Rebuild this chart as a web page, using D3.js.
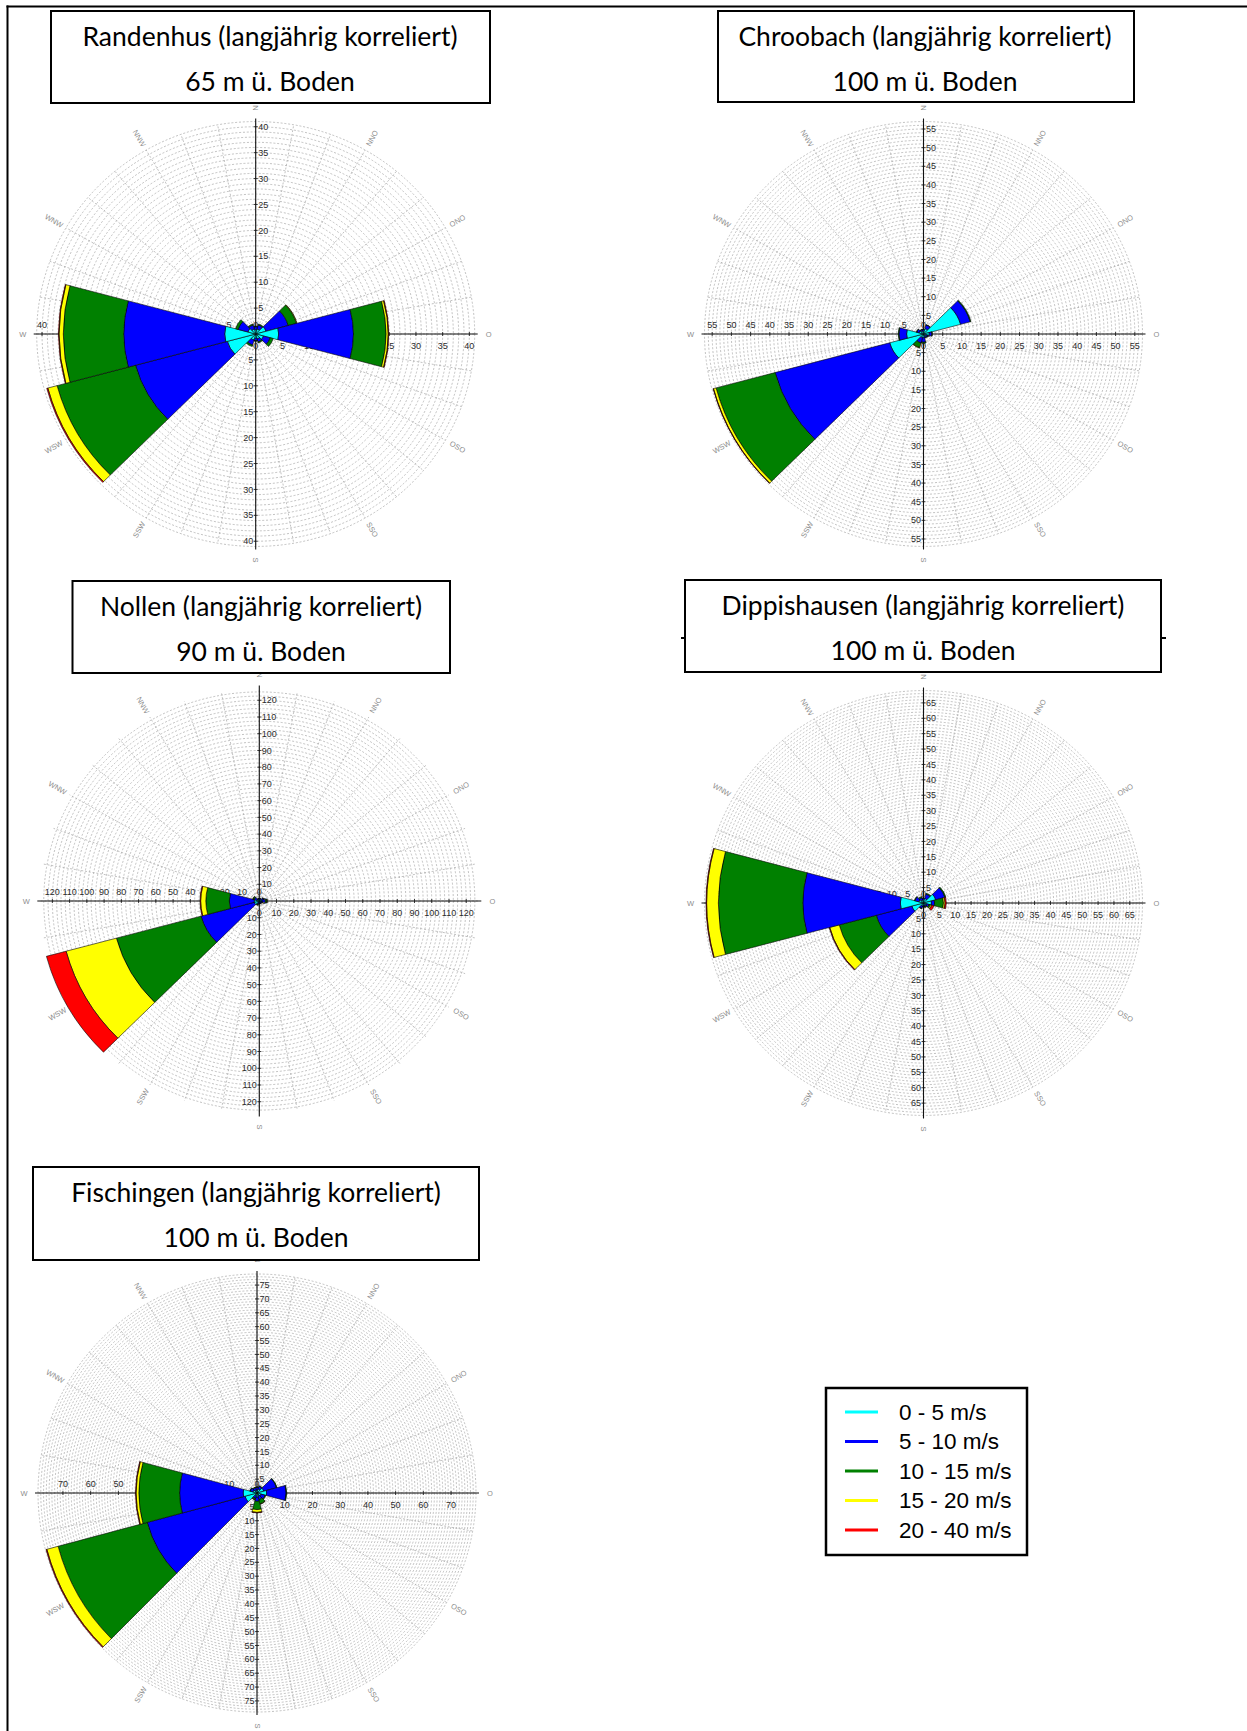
<!DOCTYPE html>
<html><head><meta charset="utf-8">
<script src="https://cdn.jsdelivr.net/npm/d3@7"></script>
<style>
body{margin:0;background:#fff}
svg{display:block}
</style>
</head><body>
<svg id="chart" width="1247" height="1731"></svg>
<script>
// Wind direction sectors (30° each, clockwise from north) and speed classes
const sectors = ["N","NNO","ONO","O","OSO","SSO","S","SSW","WSW","W","WNW","NNW"];
const speedClasses = ["0 - 5 m/s","5 - 10 m/s","10 - 15 m/s","15 - 20 m/s","20 - 40 m/s"];
const classColors = ["#00ffff","#0000ff","#008000","#ffff00","#ff0000"];

// Frequency per sector (rows, same order as sectors) and speed class (columns)
const randenhus = [
  [0.8,0.6,0.1,0,0],[1.0,0.8,0.2,0,0],[2.0,4.3,1.6,0.1,0],[4.3,14.0,6.1,0.4,0.1],
  [1.5,1.3,0.6,0,0],[1.0,0.6,0.2,0,0],[0.8,0.5,0.1,0,0],[1.2,1.0,0.3,0,0],
  [5.5,17.8,15.2,1.8,0.2],[5.8,18.9,11.3,0.8,0.1],[1.5,1.9,0.5,0,0],[1.0,0.8,0.2,0,0]
];
const chroobach = [
  [0.8,0.4,0.1,0,0],[1.5,1.0,0.1,0,0],[10.0,2.6,0.2,0,0],[1.5,0.7,0.1,0,0],
  [0.8,0.4,0.1,0,0],[0.6,0.4,0.1,0,0],[1.0,1.2,0.3,0,0],[1.0,1.5,1.3,0.1,0],
  [9.1,30.9,15.9,0.7,0.1],[4.4,2.0,0.2,0,0],[1.2,0.6,0.1,0,0],[0.8,0.4,0.1,0,0]
];
const nollen = [
  [1.0,0.5,0.1,0,0],[1.0,0.5,0.1,0,0],[1.5,1.0,0.3,0,0],[1.5,2.0,1.0,0.1,0],
  [1.0,0.8,0.2,0,0],[1.0,0.5,0.1,0,0],[1.0,0.5,0.3,0,0],[1.0,1.0,0.5,0.1,0],
  [3.0,32.0,50.8,30.2,11.8],[3.0,14.4,13.6,3.0,0.4],[1.5,1.5,0.8,0.1,0],[1.0,0.5,0.2,0,0]
];
const dippishausen = [
  [1.0,0.5,0.1,0,0],[1.5,1.5,0.3,0,0],[4.0,3.0,0.3,0,0],[2.5,1.0,2.8,0.5,0.4],
  [1.0,0.8,0.5,0.4,0.7],[0.8,0.4,0.2,0.1,0],[0.8,0.4,0.1,0,0],[1.0,0.8,0.2,0,0],
  [3.8,11.6,12.1,3.1,0.2],[7.3,30.7,26.6,3.7,0.2],[1.5,1.3,0.2,0,0],[1.0,0.8,0.4,0,0]
];
const fischingen = [
  [1.0,1.0,0.2,0,0],[1.5,1.0,0.2,0,0],[2.5,4.8,0.2,0,0],[3.5,7.0,0.2,0,0],
  [1.5,1.5,0.3,0,0],[1.0,1.5,1.6,0.1,0],[1.5,1.5,3.0,1.0,0.2],[1.0,1.0,0.5,0.1,0],
  [4.5,36.5,33.3,4.2,0.3],[5.0,22.9,14.7,1.0,0.2],[1.5,1.0,0.2,0,0],[1.0,1.0,0.2,0,0]
];

// Axis tick labels
const ticksRandenhus = [0,5,10,15,20,25,30,35,40];
const ticksChroobach = [0,5,10,15,20,25,30,35,40,45,50,55];
const ticksNollen = [0,10,20,30,40,50,60,70,80,90,100,110,120];
const ticksDippishausen = [0,5,10,15,20,25,30,35,40,45,50,55,60,65];
const ticksFischingenV = [0,5,10,15,20,25,30,35,40,45,50,55,60,65,70,75];
const ticksFischingenH = [0,10,20,30,40,50,60,70];

// Station titles and measuring heights
const stationNames = ["Randenhus","Chroobach","Nollen","Dippishausen","Fischingen"];
const stationHeights = ["65 m ü. Boden","100 m ü. Boden","90 m ü. Boden","100 m ü. Boden","100 m ü. Boden"];

// Layout of each panel
const panels = [
  {values: randenhus, ticksV: ticksRandenhus, ticksH: ticksRandenhus, outer: 41, ring: 1,
   cx: 255.7, cy: 334, k: 0.97, box: [51, 11, 490, 103], tx: 270},
  {values: chroobach, ticksV: ticksChroobach, ticksH: ticksChroobach, outer: 57, ring: 1,
   cx: 923.5, cy: 334, k: 0.97, box: [718, 11, 1134, 102], tx: 925},
  {values: nollen, ticksV: ticksNollen, ticksH: ticksNollen, outer: 127, ring: 2.5,
   cx: 259.3, cy: 901, k: 0.97, box: [72.5, 581, 450, 673], tx: 261},
  {values: dippishausen, ticksV: ticksDippishausen, ticksH: ticksDippishausen, outer: 69, ring: 1,
   cx: 923.5, cy: 903, k: 0.97, box: [685, 580, 1161, 672], tx: 923, rule: [681, 1166, 638]},
  {values: fischingen, ticksV: ticksFischingenV, ticksH: ticksFischingenH, outer: 79, ring: 1,
   cx: 257, cy: 1493, k: 1.0, box: [33, 1167, 479, 1260], tx: 256}
];
const R = 219;

const svg = d3.select("#chart");
svg.append("rect").attr("width",1247).attr("height",1731).attr("fill","#fff");

// page frame (left and top rules)
svg.append("line").attr("x1",7.5).attr("y1",5.5).attr("x2",7.5).attr("y2",1731)
  .attr("stroke","#000").attr("stroke-width",2);
svg.append("line").attr("x1",6.5).attr("y1",6.5).attr("x2",1247).attr("y2",6.5)
  .attr("stroke","#000").attr("stroke-width",2);

const rad = d => d * Math.PI / 180;
const gridColor = "#a8a8a8";

panels.forEach((p, pi) => {
  const r = d3.scaleLinear().domain([0, p.outer]).range([0, R]);
  const g = svg.append("g").attr("transform", `translate(${p.cx},${p.cy})`);
  const gs = g.append("g").attr("transform", `scale(1,${p.k})`);

  // dashed polar grid
  const rings = d3.range(p.ring, p.outer + 1e-6, p.ring);
  gs.selectAll("circle.ring").data(rings).join("circle")
    .attr("r", d => r(d)).attr("fill","none")
    .attr("stroke",gridColor).attr("stroke-width",0.7)
    .attr("stroke-dasharray","2,1.8").attr("vector-effect","non-scaling-stroke");
  const spokes = d3.range(0, 360, 10);
  gs.selectAll("line.spoke").data(spokes).join("line")
    .attr("x1",0).attr("y1",0)
    .attr("x2", d => R * Math.sin(rad(d))).attr("y2", d => -R * Math.cos(rad(d)))
    .attr("stroke",gridColor).attr("stroke-width",0.7)
    .attr("stroke-dasharray","2,1.8").attr("vector-effect","non-scaling-stroke");

  // compass labels
  const lr = R + 14;
  sectors.forEach((s, i) => {
    const a = i * 30;
    let rot = a - 90;
    if (rot > 90) rot -= 180;
    if (rot <= -90) rot += 180;
    const x = lr * Math.sin(rad(a)), y = -lr * p.k * Math.cos(rad(a));
    g.append("text").attr("transform", `translate(${x},${y}) rotate(${rot})`)
      .attr("text-anchor","middle").attr("dominant-baseline","central")
      .attr("font-family","Liberation Sans, Arial, sans-serif").attr("font-size",7.5)
      .attr("fill","#8c8c8c").text(s);
  });

  // axes
  const ax = g.append("g").attr("stroke","#111").attr("stroke-width",1.1);
  ax.append("line").attr("x1",-R-3).attr("x2",R+3).attr("y1",0).attr("y2",0);
  ax.append("line").attr("y1",-R*p.k-3).attr("y2",R*p.k+3).attr("x1",0).attr("x2",0);

  const lab = g.append("g").attr("font-family","Liberation Sans, Arial, sans-serif")
    .attr("font-size",9).attr("fill","#2a2a2a");
  p.ticksV.forEach(v => {
    const y = r(v) * p.k;
    if (v > 0) {
      ax.append("line").attr("x1",-2).attr("x2",2).attr("y1",-y).attr("y2",-y).attr("stroke-width",0.8);
      ax.append("line").attr("x1",-2).attr("x2",2).attr("y1",y).attr("y2",y).attr("stroke-width",0.8);
    }
    lab.append("text").attr("x",2.5).attr("y",-y).attr("dy","0.35em").attr("text-anchor","start").text(v);
    lab.append("text").attr("x",-2.5).attr("y",y).attr("dy","0.35em").attr("text-anchor","end").text(v);
  });
  p.ticksH.forEach(v => {
    const x = r(v);
    if (v > 0) {
      ax.append("line").attr("y1",-2).attr("y2",2).attr("x1",x).attr("x2",x).attr("stroke-width",0.8);
      ax.append("line").attr("y1",-2).attr("y2",2).attr("x1",-x).attr("x2",-x).attr("stroke-width",0.8);
    }
    lab.append("text").attr("x",x).attr("y",12).attr("dy","0.35em").attr("text-anchor","middle").text(v);
    lab.append("text").attr("x",-x).attr("y",-9).attr("dy","0.35em").attr("text-anchor","middle").text(v);
  });

  // stacked sector wedges, drawn over grid, axes and tick labels
  const arc = d3.arc();
  const wedges = g.append("g").attr("transform", `scale(1,${p.k})`);
  p.values.forEach((row, i) => {
    const a0 = rad(i * 30 - 15), a1 = rad(i * 30 + 15);
    let acc = 0;
    row.forEach((v, c) => {
      if (v <= 0) return;
      const inner = acc; acc += v;
      wedges.append("path")
        .attr("d", arc({innerRadius: r(inner), outerRadius: r(acc), startAngle: a0, endAngle: a1}))
        .attr("fill", classColors[c]).attr("stroke","#000").attr("stroke-width",0.6)
        .attr("vector-effect","non-scaling-stroke");
    });
  });

  // title box
  const [bx0, by0, bx1, by1] = p.box;
  if (p.rule) {
    svg.append("line").attr("x1",p.rule[0]).attr("x2",p.rule[1]).attr("y1",p.rule[2]).attr("y2",p.rule[2])
      .attr("stroke","#000").attr("stroke-width",2);
  }
  svg.append("rect").attr("x",bx0).attr("y",by0).attr("width",bx1-bx0).attr("height",by1-by0)
    .attr("fill","#fff").attr("stroke","#000").attr("stroke-width",2);
  const tt = svg.append("g").attr("font-family","Lato, 'Open Sans', sans-serif").attr("font-size",26.5)
    .attr("fill","#000").attr("text-anchor","middle");
  tt.append("text").attr("x",p.tx).attr("y",by0+34.5).text(`${stationNames[pi]} (langjährig korreliert)`);
  tt.append("text").attr("x",p.tx).attr("y",by0+80).text(stationHeights[pi]);
});

// legend
const leg = svg.append("g");
leg.append("rect").attr("x",826).attr("y",1388).attr("width",201).attr("height",167)
  .attr("fill","#fff").attr("stroke","#000").attr("stroke-width",2.5);
speedClasses.forEach((s, i) => {
  const y = 1412 + i * 29.5;
  leg.append("line").attr("x1",845).attr("x2",878).attr("y1",y).attr("y2",y)
    .attr("stroke",classColors[i]).attr("stroke-width",3);
  leg.append("text").attr("x",899).attr("y",y+7.5)
    .attr("font-family","Liberation Sans, Arial, sans-serif").attr("font-size",22.5)
    .attr("fill","#000").text(s);
});
</script>
</body></html>
